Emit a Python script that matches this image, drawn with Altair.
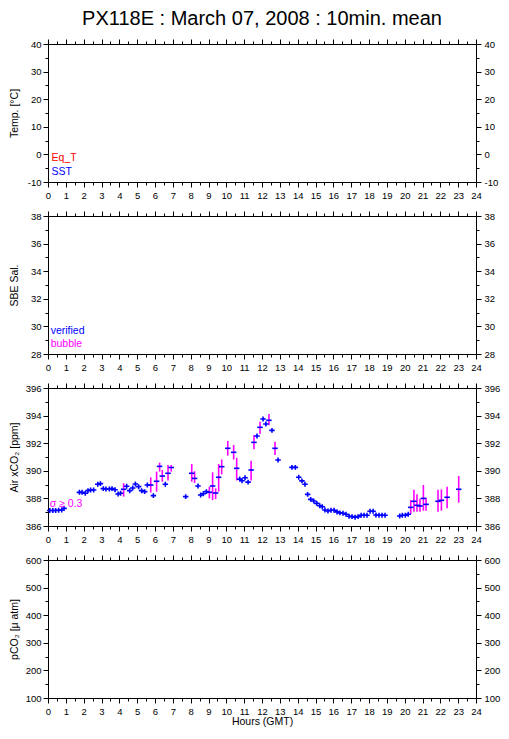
import altair as alt
import pandas as pd

FONT = "Liberation Sans"
TITLE = "PX118E : March 07, 2008 : 10min. mean"

# Air xCO2 10-min means (hours GMT, ppm)
air_hours = [0.10, 0.27, 0.43, 0.60, 0.77, 0.90,
             1.76, 1.91, 2.09, 2.24, 2.39, 2.56, 2.79, 2.94, 3.10, 3.25, 3.44, 3.59, 3.76, 3.93,
             4.07, 4.24, 4.41, 4.58, 4.75, 4.90, 5.08, 5.25, 5.42, 5.57, 5.76, 5.91, 6.09, 6.26,
             6.41, 6.58, 6.73, 6.91, 7.72, 8.06, 8.22, 8.41, 8.56, 8.71, 8.88, 9.05, 9.23, 9.40,
             9.57, 9.74, 10.08, 10.41, 10.58, 10.75, 10.88, 11.05, 11.22, 11.39, 11.55, 11.72,
             11.89, 12.06, 12.22, 12.39, 12.56, 12.73, 12.90, 13.68, 13.87, 14.06, 14.24, 14.41,
             14.56, 14.73, 14.90, 15.07, 15.24, 15.38, 15.53, 15.70, 15.87, 16.04, 16.21, 16.37,
             16.54, 16.71, 16.88, 17.05, 17.22, 17.39, 17.56, 17.72, 17.89, 18.06, 18.23, 18.39,
             18.56, 18.73, 18.90, 19.72, 19.87, 20.04, 20.20, 20.34, 20.52, 20.69, 20.86, 21.05,
             21.20, 21.87, 22.06, 22.38, 23.03]
air_xco2 = [387.12, 387.12, 387.12, 387.14, 387.16, 387.28,
            388.44, 388.44, 388.37, 388.56, 388.61, 388.61, 389.02, 389.07, 388.71, 388.68, 388.68, 388.71, 388.63, 388.32,
            388.37, 388.66, 388.88, 388.56, 388.75, 389.04, 388.85, 388.56, 388.49, 388.97, 388.97, 388.20, 389.24, 390.32,
            389.62, 389.02, 389.82, 390.24, 388.13, 389.82, 389.45, 388.90, 388.25, 388.34, 388.49, 388.44, 388.90, 388.39,
            389.53, 390.30, 391.63, 391.34, 390.18, 389.40, 389.28, 389.50, 389.18, 390.06, 392.06, 392.52,
            393.15, 393.75, 393.39, 393.66, 392.93, 391.63, 390.78, 390.25, 390.25, 389.53, 389.27, 389.03,
            388.29, 387.93, 387.81, 387.64, 387.47, 387.40, 387.16, 387.09, 387.14, 387.14, 387.02, 386.95,
            386.92, 386.85, 386.71, 386.68, 386.63, 386.68, 386.78, 386.78, 386.78, 387.07, 387.07, 386.80,
            386.78, 386.78, 386.78, 386.73, 386.78, 386.78, 386.85, 387.35, 387.79, 387.50, 387.45, 388.00,
            387.57, 387.79, 387.86, 388.08, 388.66]

# points with sigma >= 0.3 (magenta error bars)
bub_hours = [4.24, 5.76, 6.09, 6.26, 6.41, 6.73, 6.91, 8.06, 8.22, 9.05, 9.23, 9.40, 9.57, 9.74,
             10.08, 10.41, 10.58, 11.39, 11.55, 11.89, 12.39, 12.73, 20.34, 20.52, 20.69, 20.86,
             21.05, 21.20, 21.87, 22.06, 22.38, 23.03]
bub_lo = [388.13, 388.42, 388.49, 389.94, 389.21, 389.29, 389.94, 389.21, 389.12, 388.00, 387.88, 387.95, 388.49, 389.74,
          391.10, 390.82, 389.30, 389.30, 391.57, 392.66, 393.30, 391.14, 386.87, 387.03, 387.03, 387.03,
          387.11, 387.11, 387.04, 387.11, 387.28, 387.69]
bub_hi = [389.10, 389.53, 389.94, 390.59, 390.06, 390.42, 390.42, 390.49, 389.97, 388.85, 389.89, 388.73, 390.49, 390.82,
          392.16, 391.87, 390.94, 390.72, 392.59, 393.55, 394.12, 392.11, 387.88, 388.62, 388.30, 387.98,
          388.97, 388.05, 388.62, 388.65, 388.85, 389.62]

half_hours = [i * 0.5 for i in range(49)]

panels = [
    # title, domain, tick values, major step
    ("Temp. [°C]", [-10, 40], list(range(-10, 41, 5)), 10),
    ("SBE Sal.", [28, 38], list(range(28, 39, 1)), 2),
    ("Air xCO₂ [ppm]", [386, 396], list(range(386, 397, 1)), 2),
    ("pCO₂ [μ atm]", [100, 600], list(range(100, 601, 50)), 100),
]

legend_texts = [
    (["Eq_T", "SST"], [0.2, 0.2], [-1.4, -6.4], ["#ff0000", "#0000ff"]),
    (["verified", "bubble"], [0.15, 0.15], [29.68, 28.71], ["#0000ff", "#ff00ff"]),
    (["σ ≥ 0.3"], [0.1], [387.56], ["#ff00ff"]),
    ([], [], [], []),
]

W, H = 428, 138
XS = alt.Scale(domain=[0, 24], nice=False, zero=False)


def x_axis(orient, labels, title=None):
    return alt.Axis(
        orient=orient, values=half_hours,
        tickSize={"condition": {"test": "datum.value % 1 === 0", "value": 5}, "value": 3},
        labels=labels, labelExpr="datum.value % 1 === 0 ? '' + datum.value : ''",
        labelOverlap=False, labelFlush=False, labelPadding=3, labelFontSize=9.5,
        labelFont=FONT, labelColor="black", grid=False, title=title,
        titleFont=FONT, titleFontSize=10.5, titleFontWeight="normal", titlePadding=1,
        titleColor="black", domainColor="black", tickColor="black")


def y_axis(orient, vals, major, title=None):
    test = f"datum.value % {major} === 0"
    return alt.Axis(
        orient=orient, values=vals,
        tickSize={"condition": {"test": test, "value": 5}, "value": 3},
        labelExpr=f"{test} ? '' + datum.value : ''",
        labelOverlap=False, labelFlush=False,
        labelPadding=2 if orient == "left" else 3,
        labelFontSize=9.5, labelFont=FONT, labelColor="black", grid=False,
        title=title, titleFont=FONT, titleFontSize=10.5, titleFontWeight="normal",
        titleX=-29, titleColor="black", domainColor="black", tickColor="black")


charts = []
for i, (ytitle, dom, vals, major) in enumerate(panels):
    ys = alt.Scale(domain=dom, nice=False, zero=False)
    dummy = pd.DataFrame({"h": [0.0], "v": [dom[0]]})
    last = i == len(panels) - 1
    a1 = alt.Chart(dummy).mark_point(opacity=0).encode(
        x=alt.X("h:Q", scale=XS, axis=x_axis("bottom", True, "Hours (GMT)" if last else None)),
        y=alt.Y("v:Q", scale=ys, axis=y_axis("left", vals, major, ytitle)))
    a2 = alt.Chart(dummy).mark_point(opacity=0).encode(
        x=alt.X("h:Q", scale=XS, axis=x_axis("top", False)),
        y=alt.Y("v:Q", scale=ys, axis=y_axis("right", vals, major)))
    layers = [a1, a2]

    if i == 2:
        bub_set = set(bub_hours)
        df = pd.DataFrame({"h": air_hours, "v": air_xco2})
        df["bub"] = [h in bub_set for h in air_hours]
        bdf = pd.DataFrame({"h": bub_hours, "lo": bub_lo, "hi": bub_hi})
        rules = alt.Chart(bdf).mark_rule(color="#ff00ff", strokeWidth=1.6).encode(
            x=alt.X("h:Q", scale=XS, axis=None),
            y=alt.Y("lo:Q", scale=ys, axis=None), y2="hi:Q")
        cross = alt.Chart(df).transform_filter("!datum.bub").mark_point(
            shape="M-1,0L1,0M0,-0.9L0,0.9", size=30, color="#0000ff",
            strokeWidth=1.6, filled=False, opacity=1).encode(
            x=alt.X("h:Q", scale=XS, axis=None), y=alt.Y("v:Q", scale=ys, axis=None))
        hbar = alt.Chart(df).transform_filter("datum.bub").mark_point(
            shape="M-1,0L1,0", size=30, color="#0000ff",
            strokeWidth=1.6, filled=False, opacity=1).encode(
            x=alt.X("h:Q", scale=XS, axis=None), y=alt.Y("v:Q", scale=ys, axis=None))
        layers += [rules, cross, hbar]

    txt, tx, ty, tc = legend_texts[i]
    if txt:
        tdf = pd.DataFrame({"t": txt, "h": tx, "v": ty, "c": tc})
        layers.append(alt.Chart(tdf).mark_text(
            align="left", baseline="middle", font=FONT, fontSize=10.5).encode(
            x=alt.X("h:Q", scale=XS, axis=None), y=alt.Y("v:Q", scale=ys, axis=None),
            text="t:N", color=alt.Color("c:N", scale=None)))

    charts.append(alt.layer(*layers).resolve_axis(x="independent", y="independent")
                  .properties(width=W, height=H))

chart = alt.vconcat(*charts, spacing=34, bounds="flush").properties(
    title=alt.TitleParams(TITLE, font=FONT, fontSize=20, fontWeight="normal",
                          anchor="middle", frame="group", color="black", offset=9),
    padding={"left": 0, "right": 0, "top": 1, "bottom": 0},
).configure_view(stroke="black").configure(background="white")

chart.save("out.html", embed_options={"renderer": "svg", "actions": False})
